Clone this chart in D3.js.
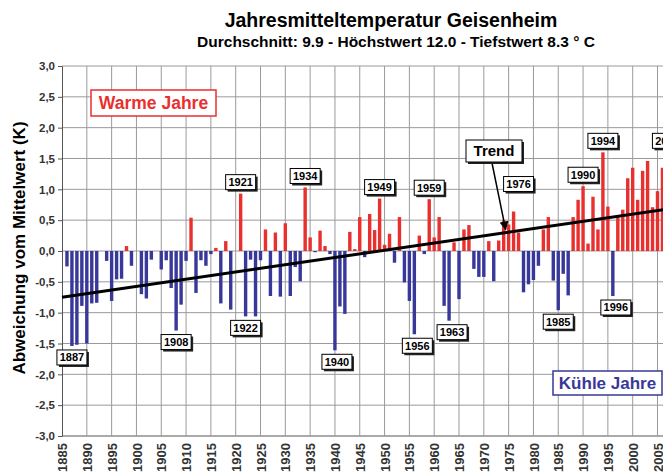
<!DOCTYPE html>
<html>
<head>
<meta charset="utf-8">
<script src="https://cdn.jsdelivr.net/npm/d3@7/dist/d3.min.js"></script>
<style>
  body { margin: 0; background: #fff; }
  svg { display: block; font-family: "Liberation Sans", Arial, sans-serif; }
</style>
</head>
<body>
<div id="chart"></div>
<script>
// Jahresmitteltemperatur Geisenheim - Abweichung vom Mittelwert
const years = [
  1886, 1887, 1888, 1889, 1890, 1891, 1892, 1893, 1894, 1895,
  1896, 1897, 1898, 1899, 1900, 1901, 1902, 1903, 1904, 1905,
  1906, 1907, 1908, 1909, 1910, 1911, 1912, 1913, 1914, 1915,
  1916, 1917, 1918, 1919, 1920, 1921, 1922, 1923, 1924, 1925,
  1926, 1927, 1928, 1929, 1930, 1931, 1932, 1933, 1934, 1935,
  1936, 1937, 1938, 1939, 1940, 1941, 1942, 1943, 1944, 1945,
  1946, 1947, 1948, 1949, 1950, 1951, 1952, 1953, 1954, 1955,
  1956, 1957, 1958, 1959, 1960, 1961, 1962, 1963, 1964, 1965,
  1966, 1967, 1968, 1969, 1970, 1971, 1972, 1973, 1974, 1975,
  1976, 1977, 1978, 1979, 1980, 1981, 1982, 1983, 1984, 1985,
  1986, 1987, 1988, 1989, 1990, 1991, 1992, 1993, 1994, 1995,
  1996, 1997, 1998, 1999, 2000, 2001, 2002, 2003, 2004, 2005,
  2006, 2007,
];

const anomalies = [
  -0.25, -1.54, -1.52, -0.89, -1.5, -0.85, -0.84, 0, -0.16, -0.81,
  -0.46, -0.45, 0.08, -0.24, 0, -0.7, -0.77, -0.14, 0, -0.3,
  -0.15, -0.6, -1.29, -0.87, -0.16, 0.54, -0.68, -0.15, -0.24, -0.05,
  0.05, -0.85, 0.16, -0.95, 0, 0.93, -1.06, -0.14, -1.06, -0.15,
  0.35, -0.73, 0.3, -0.74, 0.45, -0.73, -0.26, -0.49, 1.03, 0.22,
  -0.02, 0.33, 0.08, -0.05, -1.61, -0.9, -1.02, 0.31, 0.03, 0.55,
  -0.1, 0.6, 0.34, 0.85, 0.1, 0.28, -0.19, 0.55, -0.51, -0.81,
  -1.35, 0.25, -0.05, 0.84, 0.22, 0.55, -0.89, -1.13, 0.14, -0.78,
  0.35, 0.42, -0.29, -0.42, -0.42, 0.16, -0.49, 0.17, 0.5, 0.43,
  0.64, 0.3, -0.67, -0.54, -0.47, -0.24, 0.35, 0.55, -0.48, -0.96,
  -0.37, -0.72, 0.55, 0.83, 1.05, 0.12, 0.88, 0.35, 1.6, 0.72,
  -0.73, 0.55, 0.67, 1.18, 1.35, 0.83, 1.3, 1.46, 0.71, 0.97,
  1.35, 1.6,
];

const labelYears = [
  1887, 1908, 1921, 1922, 1934, 1940, 1949, 1956, 1959, 1963,
  1976, 1985, 1990, 1994, 1996, 2007,
];

const yTicks = [-3, -2.5, -2, -1.5, -1, -0.5, 0, 0.5, 1, 1.5, 2, 2.5, 3];
const xTicks = [
  1885, 1890, 1895, 1900, 1905, 1910, 1915, 1920, 1925, 1930, 1935,
  1940, 1945, 1950, 1955, 1960, 1965, 1970, 1975, 1980, 1985, 1990,
  1995, 2000, 2005,
];

const trendYears = [1885, 2007];
const trendValues = [-0.75, 0.68];

const width = 663;
const height = 474;
const red = "#e8312f";
const blue = "#38389a";

const svg = d3
  .select("#chart")
  .append("svg")
  .attr("width", width)
  .attr("height", height);

const x = d3.scaleLinear().domain([1885, 2005]).range([62, 657.5]);
const y = d3.scaleLinear().domain([-3, 3]).range([436, 66]);

// titel
svg
  .append("text")
  .attr("x", 391)
  .attr("y", 27)
  .attr("text-anchor", "middle")
  .style("font-size", "19.5px")
  .style("font-weight", "bold")
  .text("Jahresmitteltemperatur Geisenheim");

svg
  .append("text")
  .attr("x", 396)
  .attr("y", 47)
  .attr("text-anchor", "middle")
  .style("font-size", "15.5px")
  .style("font-weight", "bold")
  .text("Durchschnitt: 9.9 - Höchstwert 12.0 - Tiefstwert 8.3 ° C");

// gitter
svg
  .append("g")
  .selectAll("line")
  .data(yTicks)
  .enter()
  .append("line")
  .attr("x1", x(1885))
  .attr("x2", width)
  .attr("y1", (d) => y(d))
  .attr("y2", (d) => y(d))
  .attr("stroke", (d) => (d === -3 ? "#555" : "#9a9a9a"))
  .attr("stroke-width", 1);

svg
  .append("g")
  .selectAll("line")
  .data(xTicks.filter((d) => d !== 1885))
  .enter()
  .append("line")
  .attr("x1", (d) => x(d))
  .attr("x2", (d) => x(d))
  .attr("y1", y(3))
  .attr("y2", y(-3))
  .attr("stroke", "#9a9a9a")
  .attr("stroke-width", 1);

// achsen
const yAxis = svg
  .append("g")
  .attr("transform", `translate(${x(1885)}, 0)`)
  .call(
    d3
      .axisLeft(y)
      .tickValues(yTicks)
      .tickSize(4)
      .tickPadding(3)
      .tickFormat((d) => d3.format(".1f")(d).replace(".", ",").replace("−", "-"))
  );
yAxis.select(".domain").attr("stroke", "#555");
yAxis.selectAll(".tick line").attr("stroke", "#555");
yAxis
  .selectAll("text")
  .style("font-size", "11.5px")
  .style("font-weight", "bold")
  .attr("fill", "#333");

const xAxis = svg
  .append("g")
  .attr("transform", `translate(0, ${y(-3)})`)
  .call(
    d3.axisBottom(x).tickValues(xTicks).tickSize(0).tickFormat(d3.format("d"))
  );
xAxis.select(".domain").remove();
xAxis
  .selectAll("text")
  .attr("transform", "rotate(-90)")
  .attr("x", -7)
  .attr("y", 0)
  .attr("dy", "0.35em")
  .style("text-anchor", "end")
  .style("font-size", "13px")
  .style("font-weight", "bold")
  .attr("fill", "#333");

svg
  .append("text")
  .attr("transform", `translate(19, 248) rotate(-90)`)
  .attr("dy", "0.35em")
  .attr("text-anchor", "middle")
  .style("font-size", "17px")
  .style("font-weight", "bold")
  .text("Abweichung vom Mittelwert (K)");

// balken
const barWidth = 3.4;
svg
  .append("g")
  .selectAll("rect")
  .data(years.map((yr, i) => ({ year: yr, value: anomalies[i] })))
  .enter()
  .append("rect")
  .attr("x", (d) => x(d.year) - barWidth / 2)
  .attr("y", (d) => y(Math.max(0, d.value)))
  .attr("width", barWidth)
  .attr("height", (d) => Math.abs(y(d.value) - y(0)))
  .attr("fill", (d) => (d.value > 0 ? red : blue));

// trend
const trendAt = (yr) =>
  trendValues[0] +
  ((yr - trendYears[0]) * (trendValues[1] - trendValues[0])) /
    (trendYears[1] - trendYears[0]);

svg
  .append("path")
  .datum(trendYears.map((yr, i) => [yr, trendValues[i]]))
  .attr("fill", "none")
  .attr("stroke", "#000")
  .attr("stroke-width", 3)
  .attr("d", d3.line().x((d) => x(d[0])).y((d) => y(d[1])));

// beschriftungen
function labelBox(cx, cy, w, h, text, size) {
  const g = svg.append("g");
  g.append("rect")
    .attr("x", cx - w / 2 + 2)
    .attr("y", cy - h / 2 + 2)
    .attr("width", w)
    .attr("height", h)
    .attr("fill", "#222");
  g.append("rect")
    .attr("x", cx - w / 2)
    .attr("y", cy - h / 2)
    .attr("width", w)
    .attr("height", h)
    .attr("fill", "#fff")
    .attr("stroke", "#000")
    .attr("stroke-width", 1);
  g.append("text")
    .attr("x", cx)
    .attr("y", cy)
    .attr("dy", "0.36em")
    .attr("text-anchor", "middle")
    .style("font-size", size)
    .style("font-weight", "bold")
    .text(text);
}

const tweak = { 1956: 3, 1963: 3, 1976: 5, 1996: 3, 1940: 2 };
labelYears.forEach((yr) => {
  const v = anomalies[years.indexOf(yr)];
  const bh = 15;
  let cy = v > 0 ? y(v) - 4 - bh / 2 : y(v) + 4 + bh / 2;
  if (yr === 1976) cy -= 16;
  labelBox(x(yr) + (tweak[yr] || 0), cy, 30, bh, String(yr), "11px");
});

// trend-pfeil
svg
  .append("defs")
  .append("marker")
  .attr("id", "arrow")
  .attr("viewBox", "0 0 10 10")
  .attr("refX", 9)
  .attr("refY", 5)
  .attr("markerWidth", 6)
  .attr("markerHeight", 6)
  .attr("orient", "auto")
  .append("path")
  .attr("d", "M0,0 L10,5 L0,10 z")
  .attr("fill", "#000");

svg
  .append("line")
  .attr("x1", 492)
  .attr("y1", 163)
  .attr("x2", x(1974.4))
  .attr("y2", y(trendAt(1974.4)) - 3)
  .attr("stroke", "#000")
  .attr("stroke-width", 1.5)
  .attr("marker-end", "url(#arrow)");

labelBox(494, 151, 56, 22, "Trend", "15px");

// warme / kühle jahre
svg
  .append("rect")
  .attr("x", 91)
  .attr("y", 90)
  .attr("width", 125)
  .attr("height", 26)
  .attr("fill", "#fff")
  .attr("stroke", red)
  .attr("stroke-width", 1.5);
svg
  .append("text")
  .attr("x", 153.5)
  .attr("y", 103)
  .attr("dy", "0.36em")
  .attr("text-anchor", "middle")
  .attr("fill", red)
  .style("font-size", "17.5px")
  .style("font-weight", "bold")
  .text("Warme Jahre");

svg
  .append("rect")
  .attr("x", 553)
  .attr("y", 371)
  .attr("width", 109)
  .attr("height", 24)
  .attr("fill", "#fff")
  .attr("stroke", blue)
  .attr("stroke-width", 1.5);
svg
  .append("text")
  .attr("x", 607.5)
  .attr("y", 383)
  .attr("dy", "0.36em")
  .attr("text-anchor", "middle")
  .attr("fill", blue)
  .style("font-size", "17px")
  .style("font-weight", "bold")
  .text("Kühle Jahre");
</script>
</body>
</html>
